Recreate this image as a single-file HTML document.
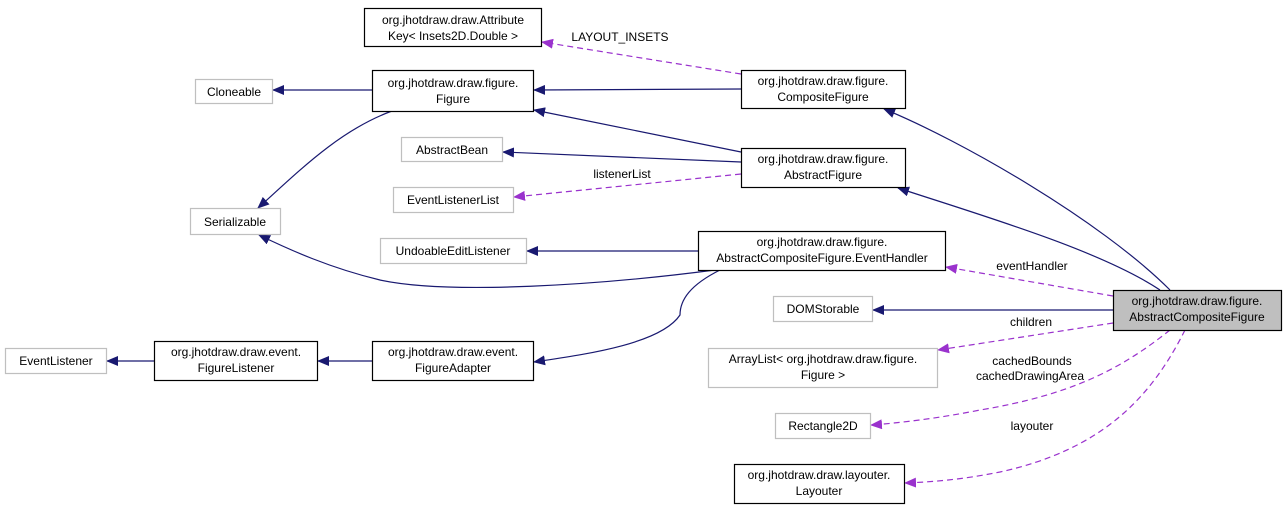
<!DOCTYPE html>
<html><head><meta charset="utf-8"><style>
html,body{margin:0;padding:0;background:#fff;}
svg{display:block;}
text{font-family:"Liberation Sans",Arial,sans-serif;font-size:12px;fill:#000;}
</style></head><body>
<svg width="1287" height="512" viewBox="0 0 1287 512" xmlns="http://www.w3.org/2000/svg">
<defs>
<marker id="an" markerWidth="12" markerHeight="10" refX="11" refY="5" orient="auto" markerUnits="userSpaceOnUse"><path d="M0,0 L12,5 L0,10 z" fill="#191970"/></marker>
<marker id="ap" markerWidth="12" markerHeight="10" refX="11" refY="5" orient="auto" markerUnits="userSpaceOnUse"><path d="M0,0 L12,5 L0,10 z" fill="#9a32cd"/></marker>
</defs>
<g fill="none" stroke="#191970" stroke-width="1.2" marker-end="url(#an)">
<path d="M372,90 L273,90"/>
<path d="M741,89 L534,90"/>
<path d="M741,152 L534,110"/>
<path d="M741,162 L503,152"/>
<path d="M392,111 C340,130 300,170 258,208"/>
<path d="M715,270 C600,285 450,295 380,280 C330,268 290,250 259,235"/>
<path d="M698,251 L527,251"/>
<path d="M720,270 C690,285 680,300 680,315 C660,345 580,355 534,362"/>
<path d="M372,361 L318,361"/>
<path d="M154,361 L107,361"/>
<path d="M1170,290 C1100,220 960,140 884,109"/>
<path d="M1160,290 C1100,250 980,215 898,188"/>
<path d="M1113,310 L873,310"/>
</g>
<g fill="none" stroke="#9a32cd" stroke-width="1.2" stroke-dasharray="6,4" marker-end="url(#ap)">
<path d="M741,74 L542,42"/>
<path d="M741,174 L514,197"/>
<path d="M1113,296 L946,267"/>
<path d="M1113,323 L938,350"/>
<path d="M1170,330 C1120,370 1070,395 980,410 C940,418 900,423 871,425"/>
<path d="M1185,330 C1150,400 1100,450 1000,472 C960,480 930,482 905,483"/>
</g>
<g stroke-width="1.2">
<rect x="364.5" y="8.5" width="177" height="38" fill="#fff" stroke="#000"/>
<rect x="195.5" y="79.5" width="77" height="24" fill="#fff" stroke="#bfbfbf"/>
<rect x="372.5" y="70.5" width="161" height="41" fill="#fff" stroke="#000"/>
<rect x="741.5" y="70.5" width="164" height="38" fill="#fff" stroke="#000"/>
<rect x="401.5" y="137.5" width="101" height="24" fill="#fff" stroke="#bfbfbf"/>
<rect x="741.5" y="148.5" width="164" height="39" fill="#fff" stroke="#000"/>
<rect x="393.5" y="187.5" width="120" height="25" fill="#fff" stroke="#bfbfbf"/>
<rect x="190.5" y="208.5" width="90" height="26" fill="#fff" stroke="#bfbfbf"/>
<rect x="380.5" y="238.5" width="146" height="25" fill="#fff" stroke="#bfbfbf"/>
<rect x="698.5" y="231.5" width="247" height="39" fill="#fff" stroke="#000"/>
<rect x="773.5" y="296.5" width="99" height="25" fill="#fff" stroke="#bfbfbf"/>
<rect x="1113.5" y="290.5" width="168" height="40" fill="#bfbfbf" stroke="#000"/>
<rect x="5.5" y="348.5" width="101" height="25" fill="#fff" stroke="#bfbfbf"/>
<rect x="154.5" y="341.5" width="163" height="39" fill="#fff" stroke="#000"/>
<rect x="372.5" y="341.5" width="161" height="39" fill="#fff" stroke="#000"/>
<rect x="708.5" y="348.5" width="229" height="39" fill="#fff" stroke="#bfbfbf"/>
<rect x="775.5" y="413.5" width="95" height="25" fill="#fff" stroke="#bfbfbf"/>
<rect x="734.5" y="464.5" width="170" height="39" fill="#fff" stroke="#000"/>
</g>
<g text-anchor="middle">
<text x="453" y="24">org.jhotdraw.draw.Attribute</text>
<text x="453" y="40">Key&lt; Insets2D.Double &gt;</text>
<text x="234" y="96">Cloneable</text>
<text x="453" y="87">org.jhotdraw.draw.figure.</text>
<text x="453" y="103">Figure</text>
<text x="823" y="85">org.jhotdraw.draw.figure.</text>
<text x="823" y="101">CompositeFigure</text>
<text x="452" y="154">AbstractBean</text>
<text x="823" y="163">org.jhotdraw.draw.figure.</text>
<text x="823" y="179">AbstractFigure</text>
<text x="453" y="204">EventListenerList</text>
<text x="235" y="226">Serializable</text>
<text x="453" y="255">UndoableEditListener</text>
<text x="822" y="246">org.jhotdraw.draw.figure.</text>
<text x="822" y="262">AbstractCompositeFigure.EventHandler</text>
<text x="823" y="313">DOMStorable</text>
<text x="1197" y="305">org.jhotdraw.draw.figure.</text>
<text x="1197" y="321">AbstractCompositeFigure</text>
<text x="56" y="365">EventListener</text>
<text x="236" y="356">org.jhotdraw.draw.event.</text>
<text x="236" y="372">FigureListener</text>
<text x="453" y="356">org.jhotdraw.draw.event.</text>
<text x="453" y="372">FigureAdapter</text>
<text x="823" y="363">ArrayList&lt; org.jhotdraw.draw.figure.</text>
<text x="823" y="379">Figure &gt;</text>
<text x="823" y="430">Rectangle2D</text>
<text x="819" y="479">org.jhotdraw.draw.layouter.</text>
<text x="819" y="495">Layouter</text>
<text x="620" y="41">LAYOUT_INSETS</text>
<text x="622" y="178">listenerList</text>
<text x="1032" y="270">eventHandler</text>
<text x="1031" y="326">children</text>
<text x="1032" y="365">cachedBounds</text>
<text x="1030" y="380">cachedDrawingArea</text>
<text x="1032" y="430">layouter</text>
</g>
</svg>
</body></html>
